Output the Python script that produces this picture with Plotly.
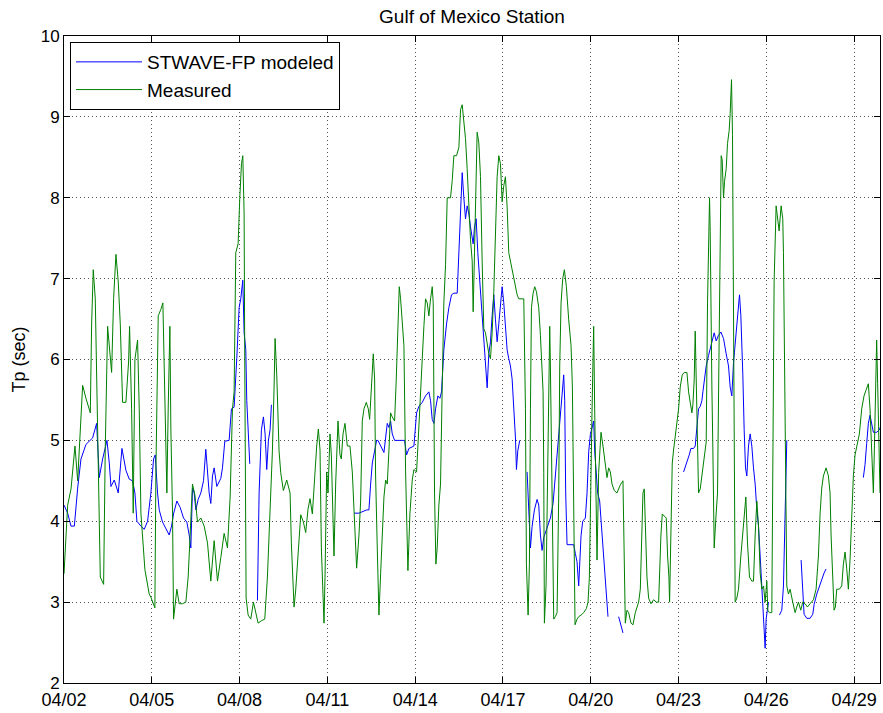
import plotly.graph_objects as go
import pandas as pd

BASE = "2008-04-02"
tick_days = [0, 3, 6, 9, 12, 15, 18, 21, 24, 27]
tick_labels = ["04/02", "04/05", "04/08", "04/11", "04/14", "04/17", "04/20", "04/23", "04/26", "04/29"]
y_ticks = [2, 3, 4, 5, 6, 7, 8, 9, 10]
x_end_day = 27.884

# Measured peak period (days after 04/02 00:00, seconds)
measured_days = [
    0.0, 0.125, 0.24, 0.375, 0.467, 0.558, 0.637, 0.751, 0.899, 0.944, 1.0, 1.069, 1.126, 1.183, 1.24,
    1.354, 1.41, 1.49, 1.58, 1.627, 1.695, 1.775, 1.854, 1.923, 2.002, 2.116, 2.207, 2.241, 2.31, 2.366,
    2.423, 2.514, 2.571, 2.628, 2.765, 2.912, 2.969, 3.049, 3.106, 3.14, 3.22, 3.31, 3.379, 3.424, 3.481,
    3.515, 3.561, 3.618, 3.652, 3.709, 3.743, 3.8, 3.857, 3.936, 4.05, 4.164, 4.243, 4.31, 4.39, 4.471,
    4.562, 4.676, 4.79, 4.904, 5.017, 5.131, 5.245, 5.358, 5.472, 5.586, 5.677, 5.757, 5.813, 5.87, 5.95,
    6.007, 6.064, 6.11, 6.155, 6.178, 6.223, 6.292, 6.382, 6.473, 6.542, 6.633, 6.747, 6.86, 6.951, 7.042,
    7.122, 7.179, 7.213, 7.27, 7.349, 7.406, 7.497, 7.611, 7.725, 7.77, 7.861, 7.918, 7.998, 8.089, 8.18,
    8.259, 8.339, 8.407, 8.487, 8.567, 8.635, 8.692, 8.749, 8.794, 8.84, 8.885, 8.919, 8.976, 9.022, 9.09,
    9.135, 9.192, 9.226, 9.283, 9.363, 9.431, 9.477, 9.534, 9.602, 9.681, 9.772, 9.852, 9.909, 9.966, 10.0,
    10.08, 10.137, 10.193, 10.25, 10.33, 10.398, 10.444, 10.512, 10.569, 10.614, 10.648, 10.705, 10.762,
    10.819, 10.876, 10.933, 10.99, 11.047, 11.104, 11.16, 11.217, 11.297, 11.354, 11.411, 11.456, 11.502,
    11.559, 11.616, 11.673, 11.73, 11.752, 11.82, 11.9, 11.957, 12.048, 12.094, 12.162, 12.242, 12.3,
    12.355, 12.412, 12.469, 12.526, 12.583, 12.617, 12.662, 12.708, 12.753, 12.81, 12.867, 12.924, 12.98,
    13.038, 13.095, 13.208, 13.265, 13.322, 13.413, 13.493, 13.55, 13.607, 13.641, 13.72, 13.777, 13.834,
    13.891, 13.948, 13.982, 14.027, 14.073, 14.118, 14.175, 14.232, 14.289, 14.346, 14.403, 14.46, 14.516,
    14.573, 14.63, 14.687, 14.744, 14.801, 14.858, 14.915, 14.972, 15.028, 15.085, 15.142, 15.199, 15.256,
    15.313, 15.37, 15.427, 15.484, 15.54, 15.711, 15.768, 15.802, 15.859, 15.904, 15.939, 15.973, 16.03,
    16.086, 16.143, 16.223, 16.28, 16.337, 16.371, 16.394, 16.416, 16.473, 16.53, 16.564, 16.598, 16.621,
    16.655, 16.701, 16.735, 16.792, 16.849, 16.906, 16.94, 16.985, 17.042, 17.099, 17.167, 17.247, 17.327,
    17.372, 17.418, 17.463, 17.531, 17.588, 17.668, 17.759, 17.85, 17.907, 17.952, 18.009, 18.043, 18.077,
    18.1, 18.134, 18.18, 18.214, 18.27, 18.35, 18.418, 18.498, 18.555, 18.612, 18.669, 18.726, 18.805,
    18.896, 19.01, 19.101, 19.147, 19.181, 19.238, 19.295, 19.375, 19.443, 19.522, 19.636, 19.693, 19.75,
    19.784, 19.829, 19.875, 19.92, 19.977, 20.057, 20.148, 20.239, 20.319, 20.353, 20.398, 20.444, 20.512,
    20.58, 20.626, 20.671, 20.694, 20.74, 20.785, 20.83, 20.887, 20.944, 21.001, 21.058, 21.126, 21.195,
    21.286, 21.343, 21.4, 21.456, 21.49, 21.536, 21.57, 21.604, 21.65, 21.684, 21.741, 21.798, 21.855,
    21.911, 21.945, 21.99, 22.025, 22.059, 22.082, 22.104, 22.139, 22.173, 22.218, 22.275, 22.332, 22.378,
    22.423, 22.457, 22.491, 22.537, 22.571, 22.628, 22.673, 22.73, 22.764, 22.81, 22.844, 22.867, 22.901,
    22.935, 22.992, 23.049, 23.129, 23.22, 23.3, 23.356, 23.425, 23.504, 23.561, 23.618, 23.675, 23.732,
    23.789, 23.846, 23.903, 23.959, 24.016, 24.05, 24.107, 24.187, 24.221, 24.266, 24.334, 24.391, 24.437,
    24.505, 24.562, 24.585, 24.608, 24.642, 24.664, 24.699, 24.756, 24.812, 24.903, 24.983, 25.04, 25.097,
    25.176, 25.244, 25.324, 25.404, 25.495, 25.609, 25.7, 25.78, 25.836, 25.893, 25.95, 26.041, 26.121,
    26.177, 26.212, 26.257, 26.314, 26.36, 26.405, 26.496, 26.576, 26.633, 26.69, 26.746, 26.803, 26.86,
    26.917, 26.974, 27.031, 27.111, 27.179, 27.259, 27.338, 27.406, 27.486, 27.543, 27.6, 27.657, 27.691,
    27.736, 27.77, 27.804, 27.85, 27.884,
]
measured_tp = [
    3.35, 4.2, 4.4, 4.93, 4.5, 5.08, 5.68, 5.52, 5.34, 6.44, 7.11, 6.75, 5.64, 4.35, 3.31,
    3.22, 4.9, 6.41, 5.97, 5.84, 6.75, 7.3, 6.96, 6.44, 5.47, 5.47, 5.97, 6.41, 5.39, 4.1,
    6.0, 6.24, 5.39, 4.1, 3.4, 3.1, 3.06, 2.97, 2.93, 4.6, 6.54, 6.62, 6.7, 5.92, 4.88,
    4.35, 5.4, 6.41, 5.14, 4.1, 2.79, 3.0, 3.16, 2.98, 2.98, 3.0, 3.31, 3.83, 4.46, 4.33,
    3.99, 4.04, 3.94, 3.73, 3.26, 3.76, 3.26, 3.55, 3.85, 3.67, 4.3, 5.39, 5.6, 7.32, 7.43,
    8.0, 8.42, 8.52, 7.8, 5.92, 3.05, 2.84, 2.79, 3.0, 2.87, 2.74, 2.77, 2.79, 3.31, 4.09,
    4.87, 5.66, 6.26, 5.81, 4.87, 4.6, 4.38, 4.51, 4.35, 3.72, 2.94, 3.15, 3.57, 4.08, 3.99,
    3.86, 4.15, 4.28, 4.09, 4.61, 4.93, 5.14, 4.88, 3.67, 3.05, 2.74, 3.31, 4.61, 4.35, 5.08,
    4.82, 4.09, 3.57, 4.46, 5.24, 4.82, 4.77, 5.08, 5.21, 4.93, 4.93, 4.61, 4.09, 3.52, 3.42,
    3.83, 4.25, 5.24, 5.39, 5.47, 5.39, 5.26, 5.76, 6.07, 5.76, 4.56, 3.67, 2.84,
    3.35, 3.83, 4.3, 4.51, 4.46, 4.88, 5.34, 5.29, 5.24, 5.76, 6.33, 6.9, 6.75,
    6.49, 6.17, 4.61, 3.47, 3.39, 4.09, 4.51, 4.64, 4.61, 4.93, 5.52, 6.01, 6.42,
    6.75, 6.7, 6.54, 6.75, 6.9, 6.7, 4.35, 3.47, 3.67, 4.2, 4.46, 5.66, 6.7,
    7.17, 8.0, 8.0, 8.21, 8.52, 8.52, 8.62, 9.09, 9.15, 9.04, 8.73, 8.36, 7.89,
    7.48, 7.22, 6.59, 7.32, 8.36, 8.81, 8.68, 8.26, 7.22, 6.38, 6.33, 6.17, 6.07,
    6.01, 6.33, 6.84, 7.48, 8.26, 8.52, 8.42, 7.95, 8.15, 8.26, 7.89, 7.32, 7.22,
    7.11, 7.0, 6.9, 6.8, 6.75, 6.75, 5.39, 3.47, 2.84, 3.47, 5.39, 6.64, 6.82,
    6.9, 6.84, 6.64, 6.3, 5.81, 5.6, 4.6, 2.74, 3.21, 4.9, 5.84, 6.41, 5.92,
    4.88, 3.31, 2.79, 2.82, 2.87, 4.35, 5.92, 6.7, 7.0, 7.11, 6.9, 6.49, 6.17,
    5.66, 4.35, 2.72, 2.79, 2.82, 2.84, 2.87, 2.92, 3.0, 3.3, 4.88, 5.34, 6.0,
    6.41, 5.39, 4.35, 3.52, 4.6, 5.1, 4.93, 4.72, 4.54, 4.66, 4.61, 4.46, 4.38,
    4.35, 4.45, 4.5, 3.31, 2.74, 2.9, 2.87, 2.74, 2.72, 2.87, 3.0, 3.16, 3.83,
    4.35, 4.4, 3.94, 3.31, 3.05, 2.98, 3.03, 3.0, 3.0, 3.42, 3.83, 4.09, 4.07,
    4.04, 3.57, 3.31, 3.0, 3.83, 4.72, 4.88, 5.03, 5.2, 5.39, 5.66, 5.81, 5.84,
    5.84, 5.6, 5.44, 5.34, 5.44, 5.76, 6.35, 5.76, 4.88, 4.35, 4.4, 4.56, 4.66,
    4.82, 4.98, 6.7, 7.59, 8.0, 7.58, 6.43, 5.66, 4.88, 3.67, 4.04, 4.35, 5.92,
    7.48, 8.52, 8.47, 8.0, 8.2, 8.36, 8.67, 8.83, 9.04, 9.46, 8.78, 7.06, 5.39,
    3.0, 3.05, 3.16, 3.57, 3.94, 4.3, 3.73, 3.31, 3.26, 3.26, 3.83, 4.25, 3.94,
    3.36, 3.16, 3.2, 3.0, 3.26, 2.9, 2.87, 2.87, 4.88, 6.96, 7.9, 7.74, 7.59,
    7.9, 7.74, 7.32, 6.43, 5.39, 4.35, 3.2, 3.1, 3.16, 3.0, 2.87, 2.94, 3.0,
    2.9, 3.0, 2.98, 2.94, 2.98, 3.03, 3.16, 3.57, 4.09, 4.41, 4.56, 4.66, 4.56,
    4.35, 3.83, 3.31, 2.9, 2.94, 3.16, 3.16, 3.2, 3.47, 3.62, 3.42, 3.16, 3.52,
    4.09, 4.56, 4.82, 4.95, 5.08, 5.39, 5.55, 5.62, 5.7, 5.39, 4.88, 4.35, 4.88,
    5.66, 6.24, 5.7, 4.88, 4.35,
]

# STWAVE-FP modeled peak period (None marks gaps in the model output)
modeled_days = [
    0.0, 0.125, 0.239, 0.353, 0.467, 0.58, 0.751, 0.978, 1.115, 1.206, 1.32, 1.468, 1.547, 1.604, 1.718,
    1.854, 1.98, 2.116, 2.23, 2.343, 2.423, 2.491, 2.628, 2.742, 2.856, 2.969, 3.06, 3.117, 3.197, 3.254,
    3.367, 3.481, 3.595, 3.675, 3.743, 3.857, 3.971, 4.084, 4.198, 4.278, 4.334, 4.391, 4.448, 4.505, 4.585,
    4.676, 4.767, 4.846, 4.903, 4.96, 5.017, 5.074, 5.131, 5.222, 5.358, 5.415, 5.495, 5.643, 5.722, 5.813,
    5.904, 5.984, 6.041, 6.109, 6.155, 6.212, 6.246, 6.291, 6.348, 6.48, 6.61, 6.667, 6.746, 6.815, 6.872,
    6.928, 6.985, 7.042, 7.088, 8.5, 9.909, 10.08, 10.341, 10.42, 10.478, 10.535, 10.614, 10.683, 10.728,
    10.933, 11.047, 11.104, 11.16, 11.217, 11.297, 11.638, 11.706, 11.786, 11.957, 12.048, 12.128, 12.242,
    12.355, 12.469, 12.526, 12.583, 12.64, 12.697, 12.776, 12.844, 12.901, 12.98, 13.072, 13.151, 13.242,
    13.322, 13.436, 13.493, 13.55, 13.607, 13.663, 13.72, 13.777, 13.834, 13.891, 13.982, 14.027, 14.084,
    14.141, 14.209, 14.255, 14.3, 14.346, 14.403, 14.46, 14.516, 14.573, 14.63, 14.687, 14.744, 14.801,
    14.858, 14.915, 14.972, 15.028, 15.085, 15.142, 15.199, 15.256, 15.313, 15.37, 15.427, 15.461, 15.506,
    15.574, 15.7, 15.825, 15.882, 15.939, 15.996, 16.075, 16.166, 16.223, 16.28, 16.337, 16.394, 16.507,
    16.621, 16.712, 17.076, 17.11, 17.144, 17.19, 17.418, 17.474, 17.531, 17.588, 17.622, 17.668, 17.725,
    17.816, 17.873, 17.93, 17.986, 18.043, 18.1, 18.134, 18.191, 18.236, 18.305, 18.362, 18.418, 18.498,
    18.555, 18.589, 18.77, 18.953, 19.033, 19.101, 20.1, 21.172, 21.286, 21.365, 21.422, 21.513, 21.57,
    21.604, 21.65, 21.684, 21.741, 21.798, 21.832, 21.877, 21.945, 22.025, 22.104, 22.173, 22.218, 22.287,
    22.366, 22.446, 22.537, 22.628, 22.707, 22.764, 22.821, 22.878, 22.935, 22.992, 23.049, 23.083, 23.129,
    23.163, 23.197, 23.242, 23.288, 23.333, 23.39, 23.447, 23.504, 23.561, 23.618, 23.675, 23.732, 23.789,
    23.846, 23.903, 23.937, 23.959, 23.993, 24.039, 24.073, 24.26, 24.448, 24.528, 24.585, 24.62, 24.65,
    24.676, 24.699, 24.9, 25.188, 25.245, 25.29, 25.381, 25.495, 25.586, 25.632, 25.723, 25.814, 25.893,
    25.973, 26.041, 26.7, 27.315, 27.372, 27.429, 27.486, 27.543, 27.6, 27.657, 27.77, 27.861, 27.94,
]
modeled_tp = [
    4.2, 4.1, 3.94, 3.94, 4.41, 4.77, 4.95, 5.03, 5.21, 4.54, 4.77, 5.0, 4.72, 4.43, 4.51,
    4.35, 4.9, 4.63, 4.52, 4.5, 4.35, 4.0, 3.94, 3.9, 4.0, 4.35, 4.77, 4.82, 4.35, 4.14,
    3.99, 3.91, 3.83, 3.94, 4.09, 4.25, 4.17, 4.04, 3.99, 3.83, 3.67, 4.41, 4.35, 4.14, 4.27,
    4.35, 4.5, 4.89, 4.6, 4.35, 4.22, 4.56, 4.66, 4.43, 4.53, 4.66, 4.99, 5.0, 5.39, 5.41,
    6.01, 6.64, 6.75, 6.98, 6.33, 6.12, 5.49, 5.08, 4.71, None, 3.02, 4.35, 5.13, 5.29, 5.08,
    4.64, 5.0, 5.13, 5.44, None, 4.1, 4.1, 4.14, 4.14, 4.46, 4.72, 4.87, 5.0, 5.0,
    4.85, 5.21, 5.16, 5.24, 5.08, 5.0, 5.0, 4.82, 4.9, 4.93, 5.34, 5.42, 5.47,
    5.55, 5.6, 5.49, 5.26, 5.21, 5.39, 5.55, 5.52, 5.6, 6.12, 6.44, 6.64, 6.8,
    6.82, 6.82, 7.37, 7.9, 8.31, 8.0, 7.74, 7.9, 7.8, 7.64, 7.43, 7.64, 7.74,
    7.32, 6.96, 6.75, 6.54, 6.33, 6.01, 5.65, 6.07, 6.22, 6.54, 6.8, 6.49, 6.22,
    6.44, 6.7, 6.9, 6.7, 6.44, 6.12, 6.01, 5.92, 5.76, 5.39, 5.03, 4.64, 4.87,
    5.0, None, 4.61, 4.2, 3.67, 3.94, 4.14, 4.27, 4.2, 3.83, 3.64, 3.8, 3.91,
    4.04, 4.22, 5.81, 5.49, 4.35, 3.71, 3.71, 3.6, 3.5, 3.2, 3.45, 3.82, 4.0,
    4.04, 4.35, 4.86, 5.07, 5.16, 5.24, 4.87, 4.61, 4.35, 4.25, 3.94, 3.67, 3.31,
    2.94, 2.82, None, 2.82, 2.69, 2.62, None, 4.61, 4.72, 4.82, 4.9, 4.9, 4.93,
    5.08, 5.24, 5.39, 5.42, 5.49, 5.6, 5.76, 5.92, 6.05, 6.16, 6.26, 6.33, 6.23,
    6.3, 6.34, 6.26, 6.07, 5.92, 5.66, 5.55, 5.96, 6.17, 6.43, 6.64, 6.8, 6.54,
    6.23, 5.81, 5.13, 4.66, 4.56, 4.93, 5.08, 4.93, 4.66, 4.46, 4.14, 3.94, 3.57,
    3.2, 2.94, 2.69, 2.43, 2.79, 2.9, 3.0, None, 2.84, 2.9, 3.2, 3.7, 4.1,
    4.35, 5.0, None, 3.52, 3.16, 2.85, 2.8, 2.8, 2.85, 2.97, 3.1, 3.2, 3.26,
    3.36, 3.41, None, 4.54, 4.7, 4.96, 5.21, 5.31, 5.18, 5.1, 5.1, 5.13, 5.21,
]


def to_dates(days):
    base = pd.Timestamp(BASE)
    return [base + pd.Timedelta(days=d) for d in days]


FONT = "Liberation Sans, Arial, Helvetica, sans-serif"

fig = go.Figure()
fig.add_trace(go.Scatter(
    x=to_dates(modeled_days), y=modeled_tp, mode="lines", name="STWAVE-FP modeled",
    line=dict(color="#0000ff", width=1), connectgaps=False,
))
fig.add_trace(go.Scatter(
    x=to_dates(measured_days), y=measured_tp, mode="lines", name="Measured",
    line=dict(color="#008000", width=1),
))

axis_common = dict(
    showline=True, linecolor="black", linewidth=1, mirror="ticks",
    ticks="inside", ticklen=6, tickcolor="black", tickwidth=1,
    showgrid=True, gridcolor="#555555", griddash="1px,3px", gridwidth=1,
    zeroline=False, automargin=False,
)

fig.update_layout(
    width=883, height=713,
    margin=dict(l=64, r=3, t=36, b=30, autoexpand=False),
    paper_bgcolor="white", plot_bgcolor="white",
    font=dict(family=FONT, color="black"),
    title=dict(text="Gulf of Mexico Station", x=0.5, xref="paper", xanchor="center",
               y=1 - 16 / 713, yref="container", yanchor="middle",
               font=dict(family=FONT, size=19, color="black")),
    xaxis=dict(type="date", range=to_dates([0, x_end_day]),
               tickvals=to_dates(tick_days), ticktext=tick_labels,
               tickfont=dict(family=FONT, size=18, color="black"), **axis_common),
    yaxis=dict(range=[2, 10], tickvals=y_ticks, ticktext=[str(v) for v in y_ticks],
               tickfont=dict(family=FONT, size=17, color="black"),
               title=dict(text="Tp (sec)", font=dict(family=FONT, size=18, color="black"), standoff=10),
               **axis_common),
    legend=dict(x=0.0074, y=0.9907, xanchor="left", yanchor="top",
                bgcolor="white", bordercolor="black", borderwidth=1, itemwidth=66,
                font=dict(family=FONT, size=19, color="black"), tracegroupgap=0),
    showlegend=True,
)

fig.write_html("out.html", config={"displayModeBar": False},
               post_script="document.body.style.margin='0';")
